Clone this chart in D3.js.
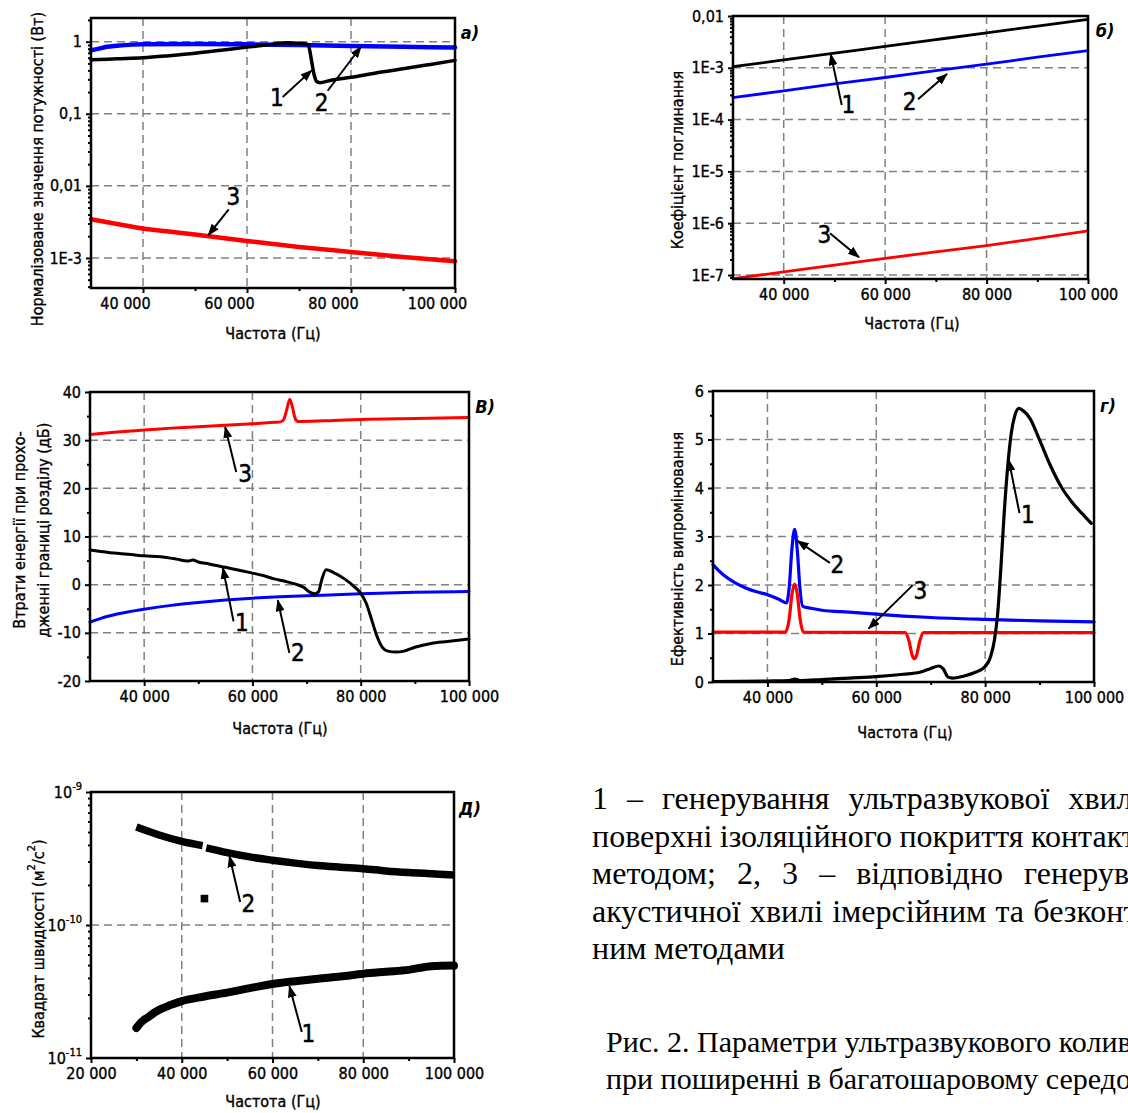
<!DOCTYPE html>
<html>
<head>
<meta charset="utf-8">
<script src="https://cdn.jsdelivr.net/npm/d3@7"></script>
<style>
body { margin: 0; background: #fff; overflow: hidden; }
svg { display: block; }
text { font-family: "DejaVu Sans Condensed", "Liberation Sans Narrow", "Arial Narrow", sans-serif; font-size: 16px; fill: #000; stroke: #000; stroke-width: 0.35px; }
text.cap { font-family: "Liberation Serif", "Times New Roman", serif; font-size: 32px; stroke: none; }
text.fig { font-size: 30px; }
text.num { font-size: 24px; stroke-width: 0.5px; }
text.plabel { font-style: italic; font-weight: bold; font-size: 18px; stroke: none; }
</style>
</head>
<body>
<svg id="fig" width="1128" height="1113"></svg>
<script>
// ---- а) normalised power ----
const aFreq1 = [30000, 35000, 40000, 45000, 50000, 55000, 60000, 65000, 67600, 70000, 71500, 71900, 72400, 72900, 73400, 74000, 76000, 80000, 85000, 90000, 95000, 100000];
const aVal1  = [0.56, 0.58, 0.60, 0.64, 0.69, 0.76, 0.84, 0.92, 0.97, 0.95, 0.93, 0.85, 0.55, 0.35, 0.28, 0.27, 0.29, 0.32, 0.37, 0.42, 0.48, 0.55];
const aFreq2 = [30000, 31500, 33000, 35000, 38000, 40000, 50000, 60000, 70000, 80000, 90000, 100000];
const aVal2  = [0.76, 0.80, 0.85, 0.88, 0.91, 0.92, 0.93, 0.92, 0.90, 0.87, 0.85, 0.83];
const aFreq3 = [30000, 35000, 40000, 45000, 50000, 60000, 70000, 80000, 90000, 100000];
const aVal3  = [0.00345, 0.00296, 0.00256, 0.00232, 0.00211, 0.00172, 0.00142, 0.00121, 0.00103, 0.00090];
const aYTicks = [1, 0.1, 0.01, 0.001];
const aYLabels = ["1", "0,1", "0,01", "1E-3"];

// ---- б) absorption coefficient ----
const bFreq = [30000, 40000, 50000, 60000, 70000, 80000, 90000, 100000];
const bVal1 = [1.05e-3, 1.42e-3, 1.92e-3, 2.59e-3, 3.50e-3, 4.73e-3, 6.39e-3, 8.63e-3];
const bVal2 = [2.65e-4, 3.6e-4, 4.9e-4, 6.5e-4, 8.8e-4, 1.18e-3, 1.6e-3, 2.14e-3];
const bVal3 = [8.5e-8, 1.15e-7, 1.55e-7, 2.1e-7, 2.8e-7, 3.7e-7, 5.1e-7, 7.1e-7];
const bYTicks = [0.01, 1e-3, 1e-4, 1e-5, 1e-6, 1e-7];
const bYLabels = ["0,01", "1E-3", "1E-4", "1E-5", "1E-6", "1E-7"];

// ---- в) energy loss at the interface, dB ----
const cFreq1 = [30000, 32000, 35000, 38000, 40000, 43000, 46000, 48000, 49000, 50000, 52000, 55000, 58000, 60000, 62000, 64000, 66000, 68000, 69500, 70500, 71500, 72200, 72800, 73600, 75000, 77000, 79000, 80000, 81000, 82000, 83000, 84000, 85000, 86500, 88000, 90000, 93000, 96000, 100000];
const cVal1  = [7.2, 6.9, 6.5, 6.2, 6.0, 5.8, 5.3, 4.9, 5.1, 4.7, 4.3, 3.6, 2.9, 2.4, 1.9, 1.2, 0.7, 0.1, -0.6, -1.5, -1.9, -1.5, 1.0, 3.1, 2.5, 1.2, -0.6, -1.8, -3.8, -7.2, -10.7, -13.0, -13.8, -14.0, -13.8, -13.0, -12.2, -11.8, -11.3];
const cFreq2 = [30000, 32000, 35000, 40000, 45000, 50000, 55000, 60000, 65000, 70000, 80000, 90000, 100000];
const cVal2  = [-7.8, -7.0, -6.1, -5.1, -4.3, -3.7, -3.2, -2.8, -2.5, -2.3, -1.9, -1.6, -1.4];
const cFreq3 = [30000, 35000, 40000, 45000, 50000, 55000, 60000, 64000, 65200, 65800, 66300, 66900, 67400, 67900, 68400, 69000, 75000, 80000, 90000, 100000];
const cVal3  = [31.2, 31.7, 32.1, 32.5, 32.8, 33.1, 33.4, 33.7, 33.8, 34.3, 36.2, 38.5, 36.8, 34.5, 33.9, 33.9, 34.1, 34.3, 34.5, 34.7];
const cYTicks = [-20, -10, 0, 10, 20, 30, 40];

// ---- г) radiation efficiency ----
const dFreq1 = [30000, 40000, 44000, 45000, 46000, 50000, 55000, 60000, 65000, 68000, 70000, 71500, 72300, 73200, 74000, 76000, 78000, 80000, 81000, 81700, 82300, 82900, 83500, 84200, 84800, 85400, 86200, 86900, 88200, 90000, 91800, 94000, 96000, 98000, 99500];
const dVal1  = [0.01, 0.02, 0.03, 0.06, 0.03, 0.05, 0.08, 0.11, 0.16, 0.20, 0.28, 0.33, 0.27, 0.10, 0.08, 0.12, 0.19, 0.32, 0.52, 0.86, 1.41, 2.37, 3.48, 4.51, 5.13, 5.47, 5.64, 5.60, 5.44, 4.99, 4.51, 4.02, 3.70, 3.45, 3.27];
const dFreq2 = [30000, 31000, 32000, 34000, 36000, 38000, 40000, 42000, 43500, 44000, 44500, 45000, 45500, 46000, 46500, 48000, 50000, 55000, 60000, 65000, 70000, 80000, 90000, 100000];
const dVal2  = [2.42, 2.30, 2.20, 2.05, 1.94, 1.86, 1.80, 1.71, 1.63, 1.95, 2.75, 3.15, 2.70, 1.90, 1.56, 1.52, 1.48, 1.44, 1.40, 1.36, 1.33, 1.29, 1.26, 1.24];
const dFreq3 = [30000, 43300, 44000, 44500, 45000, 45500, 46000, 46600, 65300, 66000, 66600, 67000, 67400, 68000, 68700, 100000];
const dVal3  = [1.03, 1.03, 1.30, 1.80, 2.02, 1.80, 1.30, 1.03, 1.02, 0.85, 0.55, 0.48, 0.55, 0.85, 1.02, 1.02];
const dYTicks = [0, 1, 2, 3, 4, 5, 6];

// ---- д) velocity squared ----
const eFreq1 = [30000, 31000, 32500, 35000, 37500, 40000, 45000, 50000, 55000, 60000, 65000, 70000, 75000, 80000, 85000, 90000, 95000, 100000];
const eVal1  = [1.68e-11, 1.85e-11, 2.02e-11, 2.30e-11, 2.50e-11, 2.68e-11, 2.90e-11, 3.10e-11, 3.35e-11, 3.60e-11, 3.78e-11, 3.95e-11, 4.10e-11, 4.30e-11, 4.45e-11, 4.60e-11, 4.90e-11, 4.95e-11];
const eFreq2 = [30000, 35000, 40000, 44600, 45000, 45400, 50000, 55000, 60000, 65000, 70000, 75000, 80000, 85000, 90000, 95000, 100000];
const eVal2  = [5.45e-10, 4.75e-10, 4.25e-10, 3.95e-10, 1.58e-10, 3.8e-10, 3.5e-10, 3.25e-10, 3.07e-10, 2.92e-10, 2.80e-10, 2.72e-10, 2.65e-10, 2.55e-10, 2.48e-10, 2.43e-10, 2.38e-10];
const eOutlier = [45000]; // point off the curve
const eYTicks = [1e-11, 1e-10, 1e-9];
const eYExp = ["-11", "-10", "-9"];

const xTicksMain = [40000, 60000, 80000, 100000];
const xMinorMain = [50000, 70000, 90000];
const xGridMain = [40000, 60000, 80000];

const svg = d3.select("#fig");
const defs = svg.append("defs");
defs.append("marker")
    .attr("id", "arr")
    .attr("viewBox", "0 0 12 9")
    .attr("refX", 11)
    .attr("refY", 4.5)
    .attr("markerWidth", 12)
    .attr("markerHeight", 9)
    .attr("markerUnits", "userSpaceOnUse")
    .attr("orient", "auto")
    .append("path")
    .attr("d", "M0,0 L12,4.5 L0,9 Z")
    .attr("fill", "#000");

const fmtHz = d => d3.format(",")(d).replace(/,/g, " ");

function logMinor(dom){
    let out = [];
    for(let e = Math.floor(Math.log10(dom[0])); e <= Math.ceil(Math.log10(dom[1])); e++){
        for(let m = 2; m < 10; m++){
            let v = m * Math.pow(10, e);
            if(v >= dom[0] && v <= dom[1]) out.push(v);
        }
    }
    return out;
}

function drawPanel(o){
    let g = svg.append("g");
    let x = d3.scaleLinear().domain(o.xDom).range([o.left, o.right]);
    let y = (o.log ? d3.scaleLog() : d3.scaleLinear()).domain(o.yDom).range([o.bottom, o.top]);

    // dashed grid
    g.append("g").selectAll("line").data(o.xGrid).join("line")
        .attr("x1", d => x(d)).attr("x2", d => x(d))
        .attr("y1", o.top).attr("y2", o.bottom)
        .attr("stroke", "#808080").attr("stroke-width", 1.5).attr("stroke-dasharray", "8,5");
    g.append("g").selectAll("line").data(o.yGrid).join("line")
        .attr("y1", d => y(d)).attr("y2", d => y(d))
        .attr("x1", o.left).attr("x2", o.right)
        .attr("stroke", "#808080").attr("stroke-width", 1.5).attr("stroke-dasharray", "8,5");

    // curves
    o.series.forEach(function(s){
        let pts = d3.zip(s.f, s.v);
        let line = d3.line()
            .defined(d => !(s.skip && s.skip.includes(d[0])))
            .x(d => x(d[0])).y(d => y(d[1]))
            .curve(d3.curveMonotoneX);
        g.append("path").datum(pts)
            .attr("d", line)
            .attr("fill", "none")
            .attr("stroke", s.color)
            .attr("stroke-width", s.width)
            .attr("stroke-linejoin", "round")
            .attr("stroke-linecap", s.cap || "round");
        if(s.skip){
            g.selectAll(null).data(pts.filter(d => s.skip.includes(d[0]))).join("rect")
                .attr("x", d => x(d[0]) - 3.8).attr("y", d => y(d[1]) - 3.8)
                .attr("width", 7.6).attr("height", 7.6).attr("fill", s.color);
        }
    });

    // frame
    g.append("rect")
        .attr("x", o.left).attr("y", o.top)
        .attr("width", o.right - o.left).attr("height", o.bottom - o.top)
        .attr("fill", "none").attr("stroke", "#000").attr("stroke-width", 2.5);

    // x axis
    let xa = g.append("g").attr("transform", `translate(0,${o.bottom})`)
        .call(d3.axisBottom(x).tickValues(o.xTicks).tickSize(5).tickPadding(5).tickFormat(fmtHz));
    xa.selectAll("text").attr("dx", o.xLabelDx || 0);
    let xm = g.append("g").attr("transform", `translate(0,${o.bottom})`)
        .call(d3.axisBottom(x).tickValues(o.xMinor).tickSize(3).tickFormat(""));

    // y axis
    let ya = g.append("g").attr("transform", `translate(${o.left},0)`)
        .call(d3.axisLeft(y).tickValues(o.yTicks).tickSize(5).tickPadding(4)
            .tickFormat(o.yLabels ? (d, i) => o.yLabels[i] : d => d));
    let ym = g.append("g").attr("transform", `translate(${o.left},0)`)
        .call(d3.axisLeft(y).tickValues(o.yMinor).tickSize(3).tickFormat(""));
    [xa, xm, ya, ym].forEach(function(a){
        a.select(".domain").remove();
        a.selectAll("line").attr("stroke-width", 2);
        a.attr("font-size", null).attr("font-family", null);
    });
    if(o.yExp){
        ya.selectAll("text").text("10").append("tspan")
            .attr("dy", -8).style("font-size", "11px").text((d, i) => o.yExp[i]);
    }

    // axis titles
    g.append("text")
        .attr("x", o.xTitle[0]).attr("y", o.xTitle[1])
        .attr("text-anchor", "middle").attr("dominant-baseline", "central")
        .text("Частота (Гц)");
    o.yTitle.forEach(function(t){
        let tt = g.append("text")
            .attr("transform", `translate(${t.x},${t.y}) rotate(-90)`)
            .attr("text-anchor", "middle").attr("dominant-baseline", "central");
        if(t.parts){
            t.parts.forEach(p => {
                let sp = tt.append("tspan").text(p.s);
                if(p.sup) sp.attr("dy", -7).style("font-size", "11px");
                else if(p.down) sp.attr("dy", 7);
            });
        } else {
            tt.text(t.text);
        }
    });

    // panel letter
    g.append("text").attr("class", "plabel")
        .attr("x", o.tag[0]).attr("y", o.tag[1])
        .attr("text-anchor", "middle").attr("dominant-baseline", "central")
        .text(o.tag[2]);

    // numbered arrows
    o.notes.forEach(function(n){
        let px = x(n.f), py = y(n.v);
        g.append("line")
            .attr("x1", px + n.tx).attr("y1", py + n.ty)
            .attr("x2", px).attr("y2", py)
            .attr("stroke", "#000").attr("stroke-width", 2)
            .attr("marker-end", "url(#arr)");
        g.append("text").attr("class", "num")
            .attr("x", px + n.lx).attr("y", py + n.ly)
            .attr("text-anchor", "middle").attr("dominant-baseline", "central")
            .text(n.n);
    });
}

drawPanel({
    left: 91, right: 455, top: 18, bottom: 288,
    xDom: [30000, 100000], yDom: [3.83e-4, 2.13], log: true,
    xTicks: xTicksMain, xMinor: xMinorMain, xGrid: xGridMain, xLabelDx: -18,
    yTicks: aYTicks, yLabels: aYLabels, yMinor: logMinor([3.83e-4, 2.13]), yGrid: aYTicks,
    series: [
        {f: aFreq2, v: aVal2, color: "#0000ff", width: 4.5},
        {f: aFreq1, v: aVal1, color: "#000", width: 3.5},
        {f: aFreq3, v: aVal3, color: "#ff0000", width: 4.5}
    ],
    xTitle: [273, 333],
    yTitle: [{x: 37, y: 169, text: "Нормалізоване значення потужності (Вт)"}],
    tag: [470, 32, "а)"],
    notes: [
        {n: "1", f: 72440, v: 0.40, tx: -29, ty: 26.7, lx: -34.7, ly: 28},
        {n: "2", f: 81920, v: 0.85, tx: -33.3, ty: 44, lx: -39.3, ly: 56.3},
        {n: "3", f: 52560, v: 0.00207, tx: 20.4, ty: -25.7, lx: 25, ly: -38.3}
    ]
});

drawPanel({
    left: 733, right: 1088, top: 16, bottom: 279,
    xDom: [30000, 100000], yDom: [8.38e-8, 0.01], log: true,
    xTicks: xTicksMain, xMinor: xMinorMain, xGrid: xGridMain,
    yTicks: bYTicks, yLabels: bYLabels, yMinor: logMinor([8.38e-8, 0.01]), yGrid: bYTicks.slice(1),
    series: [
        {f: bFreq, v: bVal1, color: "#000", width: 2.8},
        {f: bFreq, v: bVal2, color: "#0000ff", width: 2.8},
        {f: bFreq, v: bVal3, color: "#ff0000", width: 2.8}
    ],
    xTitle: [912, 323],
    yTitle: [{x: 677, y: 160, text: "Коефіцієнт поглинання"}],
    tag: [1105, 30, "б)"],
    notes: [
        {n: "1", f: 49270, v: 1.82e-3, tx: 11, ty: 50.7, lx: 17.6, ly: 50.7},
        {n: "2", f: 72200, v: 7.6e-4, tx: -29, ty: 25.3, lx: -37.3, ly: 27.7},
        {n: "3", f: 54840, v: 2.2e-7, tx: -29, ty: -24, lx: -34.7, ly: -22.3}
    ]
});

drawPanel({
    left: 90, right: 469, top: 392, bottom: 681,
    xDom: [30000, 100000], yDom: [-20, 40], log: false,
    xTicks: xTicksMain, xMinor: xMinorMain, xGrid: xGridMain,
    yTicks: cYTicks, yMinor: [-15, -5, 5, 15, 25, 35], yGrid: [-10, 0, 10, 20, 30],
    series: [
        {f: cFreq2, v: cVal2, color: "#0000ff", width: 3},
        {f: cFreq1, v: cVal1, color: "#000", width: 3},
        {f: cFreq3, v: cVal3, color: "#ff0000", width: 3}
    ],
    xTitle: [280, 728],
    yTitle: [
        {x: 19, y: 530, text: "Втрати енергії при прохо-"},
        {x: 43, y: 530, text: "дженні границі розділу (дБ)"}
    ],
    tag: [485, 406, "В)"],
    notes: [
        {n: "3", f: 54970, v: 32.75, tx: 11, ty: 45, lx: 20, ly: 46.6},
        {n: "1", f: 54550, v: 3.46, tx: 10.6, ty: 53.4, lx: 19, ly: 55},
        {n: "2", f: 64680, v: -3.25, tx: 11.6, ty: 52.6, lx: 20, ly: 52.6}
    ]
});

drawPanel({
    left: 713, right: 1094, top: 391, bottom: 682,
    xDom: [30000, 100000], yDom: [0, 6], log: false,
    xTicks: xTicksMain, xMinor: xMinorMain, xGrid: xGridMain,
    yTicks: dYTicks, yMinor: [0.5, 1.5, 2.5, 3.5, 4.5, 5.5], yGrid: [1, 2, 3, 4, 5],
    series: [
        {f: dFreq2, v: dVal2, color: "#0000ff", width: 3.2},
        {f: dFreq3, v: dVal3, color: "#ff0000", width: 3.2},
        {f: dFreq1, v: dVal1, color: "#000", width: 3.2}
    ],
    xTitle: [905, 732],
    yTitle: [{x: 677, y: 549, text: "Ефективність випромінювання"}],
    tag: [1108, 405, "г)"],
    notes: [
        {n: "1", f: 84340, v: 4.58, tx: 10.7, ty: 53.3, lx: 19, ly: 55},
        {n: "2", f: 45520, v: 2.91, tx: 32.4, ty: 22, lx: 40, ly: 24.3},
        {n: "3", f: 58580, v: 1.10, tx: 44, ty: -43.3, lx: 51.7, ly: -37.6}
    ]
});

drawPanel({
    left: 91, right: 454, top: 792, bottom: 1058,
    xDom: [20000, 100000], yDom: [1e-11, 1e-9], log: true,
    xTicks: [20000, 40000, 60000, 80000, 100000], xMinor: [30000, 50000, 70000, 90000], xGrid: xGridMain,
    yTicks: eYTicks, yExp: eYExp, yMinor: logMinor([1e-11, 1e-9]), yGrid: [1e-10],
    series: [
        {f: eFreq1, v: eVal1, color: "#000", width: 8, cap: "round"},
        {f: eFreq2, v: eVal2, color: "#000", width: 7.5, cap: "butt", skip: eOutlier}
    ],
    xTitle: [273, 1101],
    yTitle: [{x: 38, y: 939, parts: [
        {s: "Квадрат швидкості (м"}, {s: "2", sup: true}, {s: "/с", down: true}, {s: "2", sup: true}, {s: ")", down: true}
    ]}],
    tag: [470, 808, "Д)"],
    notes: [
        {n: "2", f: 50520, v: 3.29e-10, tx: 10.7, ty: 45.7, lx: 19, ly: 47.3},
        {n: "1", f: 63730, v: 3.46e-11, tx: 12.4, ty: 45.7, lx: 19, ly: 47.3}
    ]
});

// ---- caption text ----
const capLines = [
    {text: "1 – генерування ультразвукової хвилі на", y: 809, justify: true},
    {text: "поверхні ізоляційного покриття контактним", y: 846.5, justify: false},
    {text: "методом; 2, 3 – відповідно генерування", y: 884, justify: true},
    {text: "акустичної хвилі імерсійним та безконтакт-", y: 921.5, justify: true},
    {text: "ним методами", y: 959, justify: false}
];
const figLines = [
    {text: "Рис. 2. Параметри ультразвукового коливання", y: 1052},
    {text: "при поширенні в багатошаровому середовищі", y: 1089}
];
const capX = 592, figX = 606;

function layoutLine(l, x0, width, cls){
    let t = svg.append("text").attr("class", cls).attr("y", l.y);
    let words = l.text.split(" ");
    let spans = words.map(w => t.append("tspan").text(w));
    let widths = spans.map(s => s.node().getComputedTextLength());
    let gap = width && l.justify ? (width - d3.sum(widths)) / (words.length - 1) : 7.5;
    let xx = x0;
    spans.forEach((s, i) => { s.attr("x", xx); xx += widths[i] + gap; });
}
// natural width of the unstretched line sets the column width
let probe = svg.append("text").attr("class", "cap").text(capLines[1].text);
const capW = probe.node().getComputedTextLength();
probe.remove();
capLines.forEach(l => layoutLine(l, capX, capW, "cap"));
figLines.forEach(l => layoutLine(l, figX, null, "cap fig"));
</script>
</body>
</html>
